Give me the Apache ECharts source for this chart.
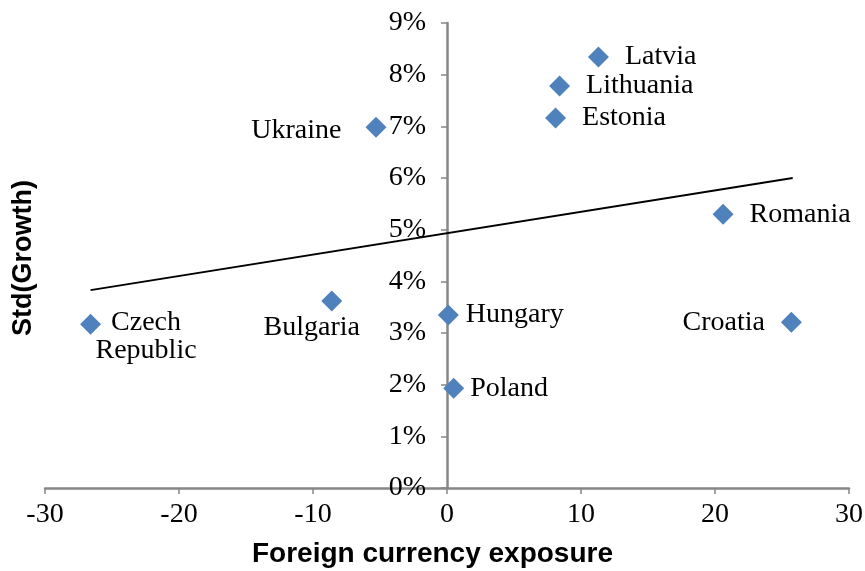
<!DOCTYPE html>
<html>
<head>
<meta charset="utf-8">
<script src="https://cdn.jsdelivr.net/npm/echarts@6/dist/echarts.min.js"></script>
<style>html,body{margin:0;padding:0;background:#fff}#c{width:865px;height:571px}</style>
</head>
<body>
<div id="c"></div>
<script>
// Data
var countries = ['Czech\nRepublic', 'Bulgaria', 'Ukraine', 'Hungary', 'Poland', 'Estonia', 'Lithuania', 'Latvia', 'Romania', 'Croatia'];
var fxExposure = [-26.6, -8.6, -5.3, 0.1, 0.5, 8.1, 8.4, 11.3, 20.6, 25.7];
var stdGrowth = [3.17, 3.62, 6.98, 3.35, 1.93, 7.16, 7.78, 8.34, 5.30, 3.21];
var trendX = [-26.6, 25.8];
var trendY = [3.83, 6.00];
var xTicks = [-30, -20, -10, 0, 10, 20, 30];
var yTicks = [0, 1, 2, 3, 4, 5, 6, 7, 8, 9];

var serif = 'Liberation Serif';
var labelStyle = {
  'Czech\nRepublic': {position: 'right', distance: 0, align: 'center', offset: [45, 12]},
  'Bulgaria': {position: 'bottom', distance: 2, offset: [-20, 0]},
  'Ukraine': {position: 'left', distance: 24, offset: [0, 3]},
  'Hungary': {position: 'right', distance: 7},
  'Poland': {position: 'right', distance: 6},
  'Estonia': {position: 'right', distance: 16},
  'Lithuania': {position: 'right', distance: 16},
  'Latvia': {position: 'right', distance: 16},
  'Romania': {position: 'right', distance: 16},
  'Croatia': {position: 'left', distance: 16}
};

var pts = countries.map(function (n, i) {
  return {name: n, value: [fxExposure[i], stdGrowth[i]], label: labelStyle[n]};
});
var trend = trendX.map(function (x, i) { return [x, trendY[i]]; });

var gridLeft = 45, gridRight = 16, W = 865;
var xMin = xTicks[0], xMax = xTicks[xTicks.length - 1];
// shift the y axis so that it crosses the x axis at x = 0
var yAxisOffset = -((W - gridLeft - gridRight) * (0 - xMin) / (xMax - xMin));

var axisColor = '#878787';
var chart = echarts.init(document.getElementById('c'));
chart.setOption({
  animation: false,
  backgroundColor: '#fff',
  grid: {left: gridLeft, right: gridRight, top: 23, bottom: 83, containLabel: false, outerBoundsMode: 'none'},
  xAxis: {
    type: 'value', min: xMin, max: xMax, interval: 10,
    axisLine: {onZero: true, lineStyle: {color: axisColor, width: 2.5}},
    axisTick: {show: true, length: 6, lineStyle: {color: axisColor, width: 1.5}},
    axisLabel: {color: '#000', fontFamily: serif, fontSize: 28, margin: 13},
    splitLine: {show: false}
  },
  yAxis: {
    type: 'value', min: yTicks[0], max: yTicks[yTicks.length - 1], interval: 1,
    position: 'left', offset: yAxisOffset,
    axisLine: {show: true, onZero: false, lineStyle: {color: axisColor, width: 2.5}},
    axisTick: {show: true, length: 6, lineStyle: {color: axisColor, width: 1.5}},
    axisLabel: {color: '#000', fontFamily: serif, fontSize: 28, margin: 21, formatter: '{value}%'},
    splitLine: {show: false}
  },
  graphic: [
    {type: 'text', left: 'center', top: 540,
      style: {text: 'Foreign currency exposure', font: 'bold 28px "Liberation Sans", Arial, sans-serif', fill: '#000'}},
    {type: 'text', x: 10, y: 336, rotation: Math.PI / 2,
      style: {text: 'Std(Growth)', font: 'bold 27px "Liberation Sans", Arial, sans-serif', fill: '#000'}}
  ],
  series: [
    {
      type: 'line', data: trend, symbol: 'none', silent: true,
      lineStyle: {color: '#000', width: 2}, z: 2
    },
    {
      type: 'scatter', data: pts, symbol: 'diamond', symbolSize: 21,
      itemStyle: {color: '#4F81BD', opacity: 1},
      label: {show: true, formatter: '{b}', color: '#000', fontFamily: serif, fontSize: 28, lineHeight: 28},
      z: 3
    }
  ]
});
</script>
</body>
</html>
